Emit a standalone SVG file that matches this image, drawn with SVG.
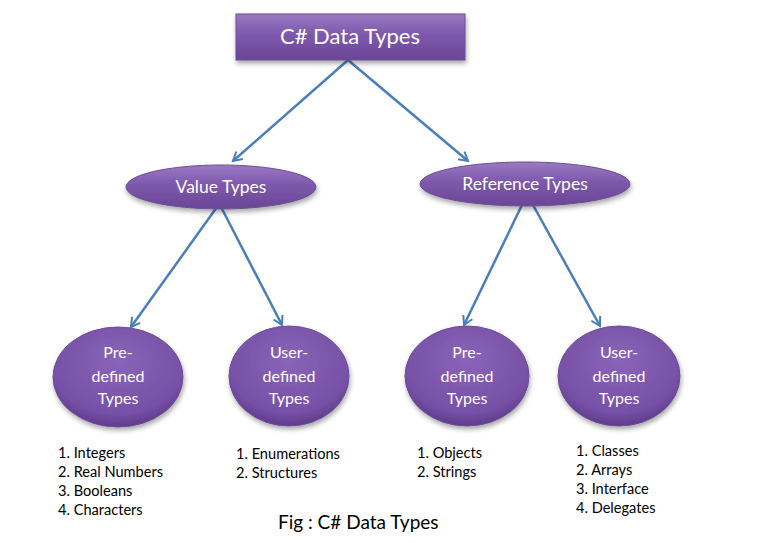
<svg xmlns="http://www.w3.org/2000/svg" width="770" height="543" viewBox="0 0 770 543">
<defs>
<linearGradient id="pg" x1="0" y1="0" x2="0" y2="1">
<stop offset="0" stop-color="#9a79c2"/>
<stop offset="0.45" stop-color="#7e58ac"/>
<stop offset="1" stop-color="#6a4596"/>
</linearGradient>
<radialGradient id="cg" cx="0.5" cy="0.35" r="0.65">
<stop offset="0" stop-color="#8a64b8"/>
<stop offset="0.8" stop-color="#7650a6"/>
<stop offset="1" stop-color="#5f3b8a"/>
</radialGradient>
<filter id="sh" x="-20%" y="-20%" width="140%" height="150%">
<feDropShadow dx="1" dy="3" stdDeviation="2.5" flood-color="#000" flood-opacity="0.35"/>
</filter>
<marker id="ah" viewBox="0 0 10 10" refX="8" refY="5" markerWidth="5" markerHeight="5" orient="auto" markerUnits="strokeWidth">
<path d="M1,1 L8,5 L1,9" fill="none" stroke="#4a7ebb" stroke-width="1.6"/>
</marker>
</defs>
<style>
.node{fill:url(#pg);stroke:#6b4d94;stroke-width:1;filter:url(#sh)}
.circ{fill:url(#cg);stroke:#6b4d94;stroke-width:1;filter:url(#sh)}
.nt{font-family:Lato,"Open Sans","Liberation Sans",sans-serif;fill:#fff;text-anchor:middle}
.ct{font-size:16px}
.lt{font-family:Lato,"Open Sans","Liberation Sans",sans-serif;fill:#000;font-size:14.6px}
.cn{stroke:#4a7ebb;stroke-width:2.5;fill:none;marker-end:url(#ah)}
</style>
<rect width="770" height="543" fill="#fff"/>
<g id="connectors">
<line class="cn" x1="348" y1="60" x2="233" y2="161"/>
<line class="cn" x1="348" y1="60" x2="468" y2="161"/>
<line class="cn" x1="217" y1="207" x2="131" y2="327"/>
<line class="cn" x1="221" y1="207" x2="282" y2="325"/>
<line class="cn" x1="522" y1="205" x2="464" y2="325"/>
<line class="cn" x1="533" y1="205" x2="600" y2="326"/>
</g>
<g id="root">
<rect class="node" x="236" y="14" width="229" height="46"/>
<text class="nt" x="350" y="44" font-size="22">C# Data Types</text>
</g>
<g id="value-types">
<ellipse class="node" cx="221" cy="187" rx="95" ry="22"/>
<text class="nt" x="221" y="193" font-size="17.5">Value Types</text>
</g>
<g id="reference-types">
<ellipse class="node" cx="525" cy="184" rx="105" ry="22"/>
<text class="nt" x="525" y="190" font-size="17.5">Reference Types</text>
</g>
<g id="value-predefined">
<ellipse class="circ" cx="118" cy="377" rx="65" ry="50"/>
<text class="nt ct" x="118" y="358">Pre-</text>
<text class="nt ct" x="118" y="382">defined</text>
<text class="nt ct" x="118" y="404">Types</text>
</g>
<g id="value-userdefined">
<ellipse class="circ" cx="289" cy="376" rx="60" ry="50"/>
<text class="nt ct" x="289" y="358">User-</text>
<text class="nt ct" x="289" y="382">defined</text>
<text class="nt ct" x="289" y="404">Types</text>
</g>
<g id="ref-predefined">
<ellipse class="circ" cx="467" cy="376" rx="62" ry="50"/>
<text class="nt ct" x="467" y="358">Pre-</text>
<text class="nt ct" x="467" y="382">defined</text>
<text class="nt ct" x="467" y="404">Types</text>
</g>
<g id="ref-userdefined">
<ellipse class="circ" cx="619" cy="376" rx="61" ry="50"/>
<text class="nt ct" x="619" y="358">User-</text>
<text class="nt ct" x="619" y="382">defined</text>
<text class="nt ct" x="619" y="404">Types</text>
</g>
<g id="lists">
<text class="lt" x="58" y="458">1. Integers</text>
<text class="lt" x="58" y="477">2. Real Numbers</text>
<text class="lt" x="58" y="496">3. Booleans</text>
<text class="lt" x="58" y="515">4. Characters</text>
<text class="lt" x="236" y="459">1. Enumerations</text>
<text class="lt" x="236" y="478">2. Structures</text>
<text class="lt" x="417" y="458">1. Objects</text>
<text class="lt" x="417" y="477">2. Strings</text>
<text class="lt" x="576" y="456">1. Classes</text>
<text class="lt" x="576" y="475">2. Arrays</text>
<text class="lt" x="576" y="494">3. Interface</text>
<text class="lt" x="576" y="513">4. Delegates</text>
</g>
<text x="278" y="529" font-family="Lato,'Open Sans','Liberation Sans',sans-serif" font-size="19" fill="#000">Fig : C# Data Types</text>
</svg>
